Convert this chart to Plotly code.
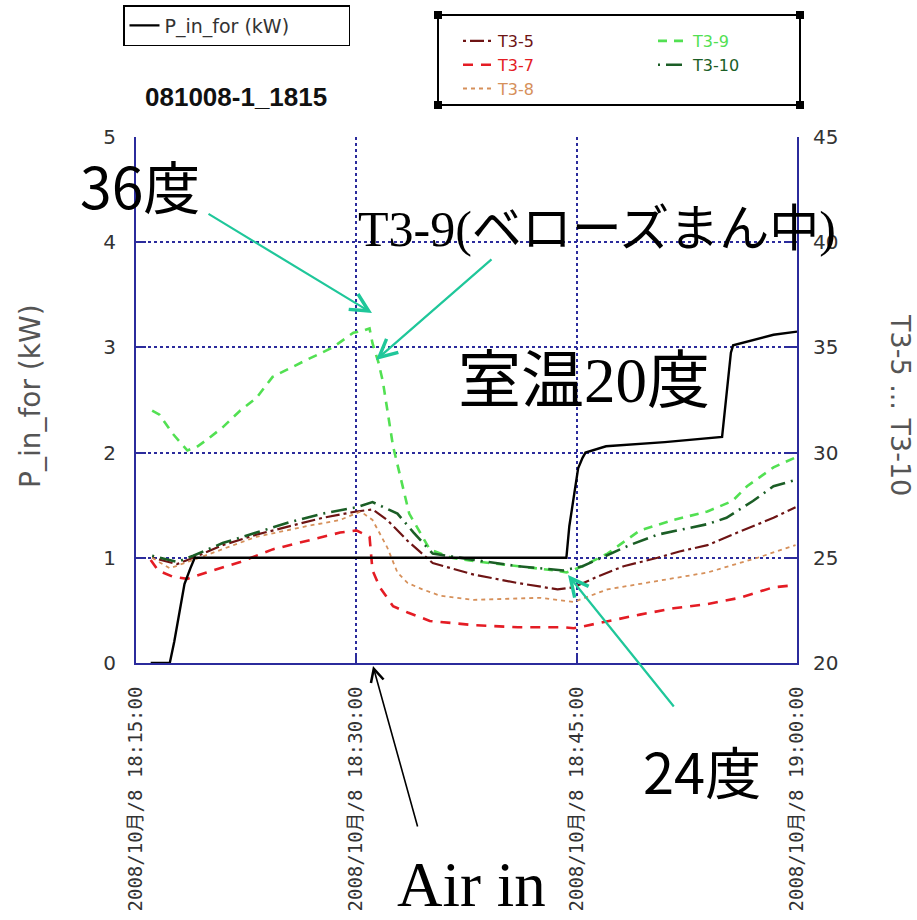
import pandas as pd
import plotly.graph_objects as go

BASE = pd.Timestamp("2008-10-08 18:15:00")

# ---------------- data (minutes after 18:15:00) ----------------
p_min = [1.0, 2.3, 2.6, 3.0, 3.3, 3.7, 4.0, 10.0, 20.0, 29.3, 29.5, 29.8, 30.1, 30.4, 30.6,
         32.0, 36.0, 39.9, 40.1, 40.3, 40.5, 40.65, 43.4, 45.0]
p_kw = [0, 0, 0.2, 0.5, 0.75, 0.9, 1.0, 1.0, 1.0, 1.0, 1.3, 1.6, 1.85, 1.95, 2.0,
        2.06, 2.1, 2.15, 2.4, 2.7, 2.95, 3.02, 3.12, 3.15]

t35_min = [1.1, 2.8, 3.9, 5.9, 8.2, 10.5, 12.7, 15.0, 16.1, 17.1, 18.5, 20.2, 23.0, 26.0,
           28.7, 29.8, 31.4, 33.2, 35.5, 37.0, 38.9, 40.6, 42.3, 43.4, 44.9]
t35 = [25.0, 24.7, 25.0, 25.6, 26.1, 26.5, 26.9, 27.2, 27.3, 26.8, 25.8, 24.75, 24.2, 23.8,
       23.5, 23.6, 24.1, 24.6, 25.0, 25.3, 25.6, 26.1, 26.6, 26.9, 27.4]

t37_min = [1.0, 1.5, 2.5, 3.5, 4.8, 7.1, 9.3, 11.6, 13.9, 15.0, 15.9, 16.1, 16.6, 17.5, 18.5,
           20.0, 23.0, 26.0, 29.1, 29.8, 32.1, 34.3, 36.6, 38.9, 41.1, 43.4, 44.9]
t37 = [24.9, 24.4, 24.1, 24.0, 24.3, 24.8, 25.4, 25.8, 26.2, 26.3, 26.0, 24.4, 23.6, 22.7, 22.4,
       22.0, 21.8, 21.7, 21.7, 21.65, 22.0, 22.3, 22.6, 22.8, 23.1, 23.6, 23.7]

t38_min = [1.1, 2.3, 3.9, 5.9, 8.2, 11.6, 13.9, 15.3, 16.1, 17.1, 17.8, 18.5, 19.5, 20.7, 23.0,
           27.5, 29.8, 32.1, 35.5, 38.9, 42.3, 44.9]
t38 = [25.0, 24.5, 24.9, 25.4, 26.0, 26.5, 26.8, 27.2, 26.8, 25.5, 24.3, 23.8, 23.5, 23.2, 23.0,
       23.1, 22.9, 23.5, 23.9, 24.3, 25.0, 25.6]

t39_min = [1.1, 1.6, 2.5, 3.5, 4.2, 4.8, 5.9, 7.1, 8.2, 9.3, 11.6, 13.4, 14.8, 15.5, 15.9, 16.1,
           16.5, 16.8, 17.5, 18.6, 20.0, 21.5, 23.5, 26.0, 28.5, 29.3, 30.4, 32.1, 34.3, 36.6,
           38.9, 40.6, 41.6, 43.4, 44.7, 45.0]
t39 = [32.0, 31.8, 30.9, 30.1, 30.3, 30.6, 31.2, 32.0, 32.6, 33.6, 34.4, 35.0, 35.7, 35.8, 35.9, 35.2,
       34.3, 33.4, 30.3, 27.1, 25.4, 25.0, 24.8, 24.6, 24.4, 24.3, 24.6, 25.2, 26.3, 26.8,
       27.2, 27.7, 28.4, 29.3, 29.7, 29.8]

t310_min = [1.1, 2.8, 3.9, 5.9, 8.2, 10.5, 12.7, 15.0, 16.1, 17.8, 18.9, 20.2, 23.0, 26.0, 29.1,
            30.4, 33.6, 35.5, 38.9, 40.2, 42.0, 43.4, 44.9]
t310 = [25.1, 24.8, 25.1, 25.7, 26.2, 26.7, 27.1, 27.4, 27.65, 27.1, 26.2, 25.2, 24.9, 24.6, 24.4,
        24.6, 25.6, 26.1, 26.6, 26.9, 27.7, 28.4, 28.7]

x_tick_min = [0, 15, 30, 45]
x_tick_text = ["2008/10月/8 18:15:00", "2008/10月/8 18:30:00",
               "2008/10月/8 18:45:00", "2008/10月/8 19:00:00"]
p_ticks = [0, 1, 2, 3, 4, 5]
t_ticks = [20, 25, 30, 35, 40, 45]


def to_time(mins):
    return [BASE + pd.Timedelta(minutes=m) for m in mins]


NAVY = "#2b2b9c"
TEAL = "#1fc79a"
TICKFONT = dict(family="DejaVu Sans, Noto Sans CJK JP", size=20, color="#333333")

# plot area in pixels
L, R, T, B = 136, 797, 137, 663
W, H = 917, 920


def px(x):
    return (x - L) / (R - L)


def py(y):
    return (B - y) / (B - T)


fig = go.Figure()

# (name, minutes, values, colour, dash, width, legend column)
temp_series = [
    ("T3-5", t35_min, t35, "#6e1414", "3px,4px,14px,4px", 2.2, "legend2"),
    ("T3-7", t37_min, t37, "#e41c24", "10px,8px", 2.6, "legend2"),
    ("T3-8", t38_min, t38, "#d6905a", "4px,4px", 1.8, "legend2"),
    ("T3-9", t39_min, t39, "#52e052", "9px,7px", 2.6, "legend3"),
    ("T3-10", t310_min, t310, "#1b5e26", "2px,6px,16px,6px", 2.6, "legend3"),
]
for name, tm, vals, col, dash, w, lg in temp_series:
    fig.add_trace(go.Scatter(
        x=to_time(tm), y=vals, mode="lines", yaxis="y",
        name=f"<span style='color:{col}'>{name}</span>",
        line=dict(color=col, dash=dash, width=w),
        legend=lg,
    ))

fig.add_trace(go.Scatter(
    x=to_time(p_min), y=p_kw, mode="lines", yaxis="y2",
    name="P_in_for (kW)" + "\u00a0" * 9, line=dict(color="black", width=2.4),
    legend="legend",
))

LEG_FONT = dict(family="DejaVu Sans", size=16)
fig.update_layout(
    width=W, height=H,
    margin=dict(l=L, r=W - R, t=T, b=H - B, pad=0, autoexpand=False),
    paper_bgcolor="white", plot_bgcolor="white",
    font=dict(family="DejaVu Sans, Noto Sans CJK JP", color="#333333"),
    xaxis=dict(
        type="date",
        range=[BASE, BASE + pd.Timedelta(minutes=45)],
        tickvals=to_time(x_tick_min), ticktext=x_tick_text,
        tickangle=-90,
        tickfont=dict(family="DejaVu Sans Mono, Noto Sans CJK JP", size=19, color="#333333"),
        ticks="inside", ticklen=10, tickwidth=2, tickcolor=NAVY,
        ticklabelstandoff=14,
        showline=True, linecolor=NAVY, linewidth=2,
        showgrid=True, gridcolor=NAVY, griddash="dot", gridwidth=1.5,
        zeroline=False,
    ),
    yaxis=dict(
        side="right", range=[20, 45], tickvals=t_ticks,
        tickfont=TICKFONT,
        ticks="inside", ticklen=10, tickwidth=2, tickcolor=NAVY,
        ticklabelstandoff=10,
        showline=True, linecolor=NAVY, linewidth=2,
        showgrid=True, gridcolor=NAVY, griddash="dot", gridwidth=1.5,
        zeroline=False,
    ),
    yaxis2=dict(
        side="left", overlaying="y", range=[0, 5], tickvals=p_ticks,
        tickfont=TICKFONT,
        ticks="inside", ticklen=10, tickwidth=2, tickcolor=NAVY,
        ticklabelstandoff=14,
        showline=True, linecolor=NAVY, linewidth=2,
        showgrid=False, zeroline=False,
    ),
    legend=dict(
        x=px(123), y=py(5), xanchor="left", yanchor="top",
        bgcolor="white", bordercolor="black", borderwidth=1.5,
        font=dict(family="DejaVu Sans", size=19, color="#333333"),
    ),
    legend2=dict(
        x=px(458), y=py(24), xanchor="left", yanchor="top",
        bgcolor="rgba(255,255,255,0)", borderwidth=0, font=LEG_FONT,
        traceorder="normal", tracegroupgap=0,
    ),
    legend3=dict(
        x=px(653), y=py(24), xanchor="left", yanchor="top",
        bgcolor="rgba(255,255,255,0)", borderwidth=0, font=LEG_FONT,
        traceorder="normal", tracegroupgap=0,
    ),
    showlegend=True,
)

# frame and corner squares of the second legend box
fig.add_shape(type="rect", xref="paper", yref="paper",
              x0=px(438), x1=px(800), y0=py(105), y1=py(15),
              line=dict(color="black", width=2), fillcolor="rgba(0,0,0,0)", layer="above")
for cx, cy in [(438, 15), (800, 15), (438, 105), (800, 105)]:
    fig.add_shape(type="rect", xref="paper", yref="paper",
                  x0=px(cx - 4), x1=px(cx + 4), y0=py(cy + 4), y1=py(cy - 4),
                  fillcolor="black", line=dict(width=0))

# texts
SANS_JP = "Noto Sans CJK JP"
SERIF_JP = "Liberation Serif, Noto Sans CJK JP"
texts = [
    ("081008-1_1815", 143, 97, dict(family="Liberation Sans", size=26, color="#111111"), True),
    ("36度", 78, 184, dict(family=SANS_JP, size=57, color="black"), False),
    ("T3-9(ベローズまん中)", 356, 229, dict(family=SERIF_JP, size=50, color="black"), False),
    ("室温20度", 456, 381, dict(family=SERIF_JP, size=63, color="black"), False),
    ("24度", 641, 769, dict(family=SANS_JP, size=56, color="black"), False),
    ("Air in", 395, 885, dict(family="Liberation Serif", size=63, color="black"), False),
]
for txt, x, y, f, bold in texts:
    fig.add_annotation(text=f"<b>{txt}</b>" if bold else txt, xref="paper", yref="paper",
                       x=px(x), y=py(y), xanchor="left", yanchor="middle",
                       showarrow=False, font=f)

# axis titles
fig.add_annotation(text="P_in_for (kW)", xref="paper", yref="paper", x=px(30), y=py(396),
                   xanchor="center", yanchor="middle", textangle=-90, showarrow=False,
                   font=dict(family="DejaVu Sans", size=28, color="#555555"))
fig.add_annotation(text="T3-5 ... T3-10", xref="paper", yref="paper", x=px(901), y=py(405),
                   xanchor="center", yanchor="middle", textangle=90, showarrow=False,
                   font=dict(family="DejaVu Sans", size=27, color="#555555"))

# arrows (tip, tail)
arrows = [
    ((372, 313), (207, 213), TEAL),
    ((376, 360), (493, 258), TEAL),
    ((568, 575), (675, 708), TEAL),
    ((373, 666), (418, 828), "black"),
]
for (tx, ty), (sx, sy), col in arrows:
    fig.add_annotation(text="", xref="paper", yref="paper", x=px(tx), y=py(ty),
                       axref="pixel", ayref="pixel", ax=sx - tx, ay=sy - ty,
                       showarrow=True, arrowhead=5, arrowsize=1.6,
                       arrowwidth=2.2 if col == TEAL else 1.6, arrowcolor=col)

fig.write_html("out.html")
